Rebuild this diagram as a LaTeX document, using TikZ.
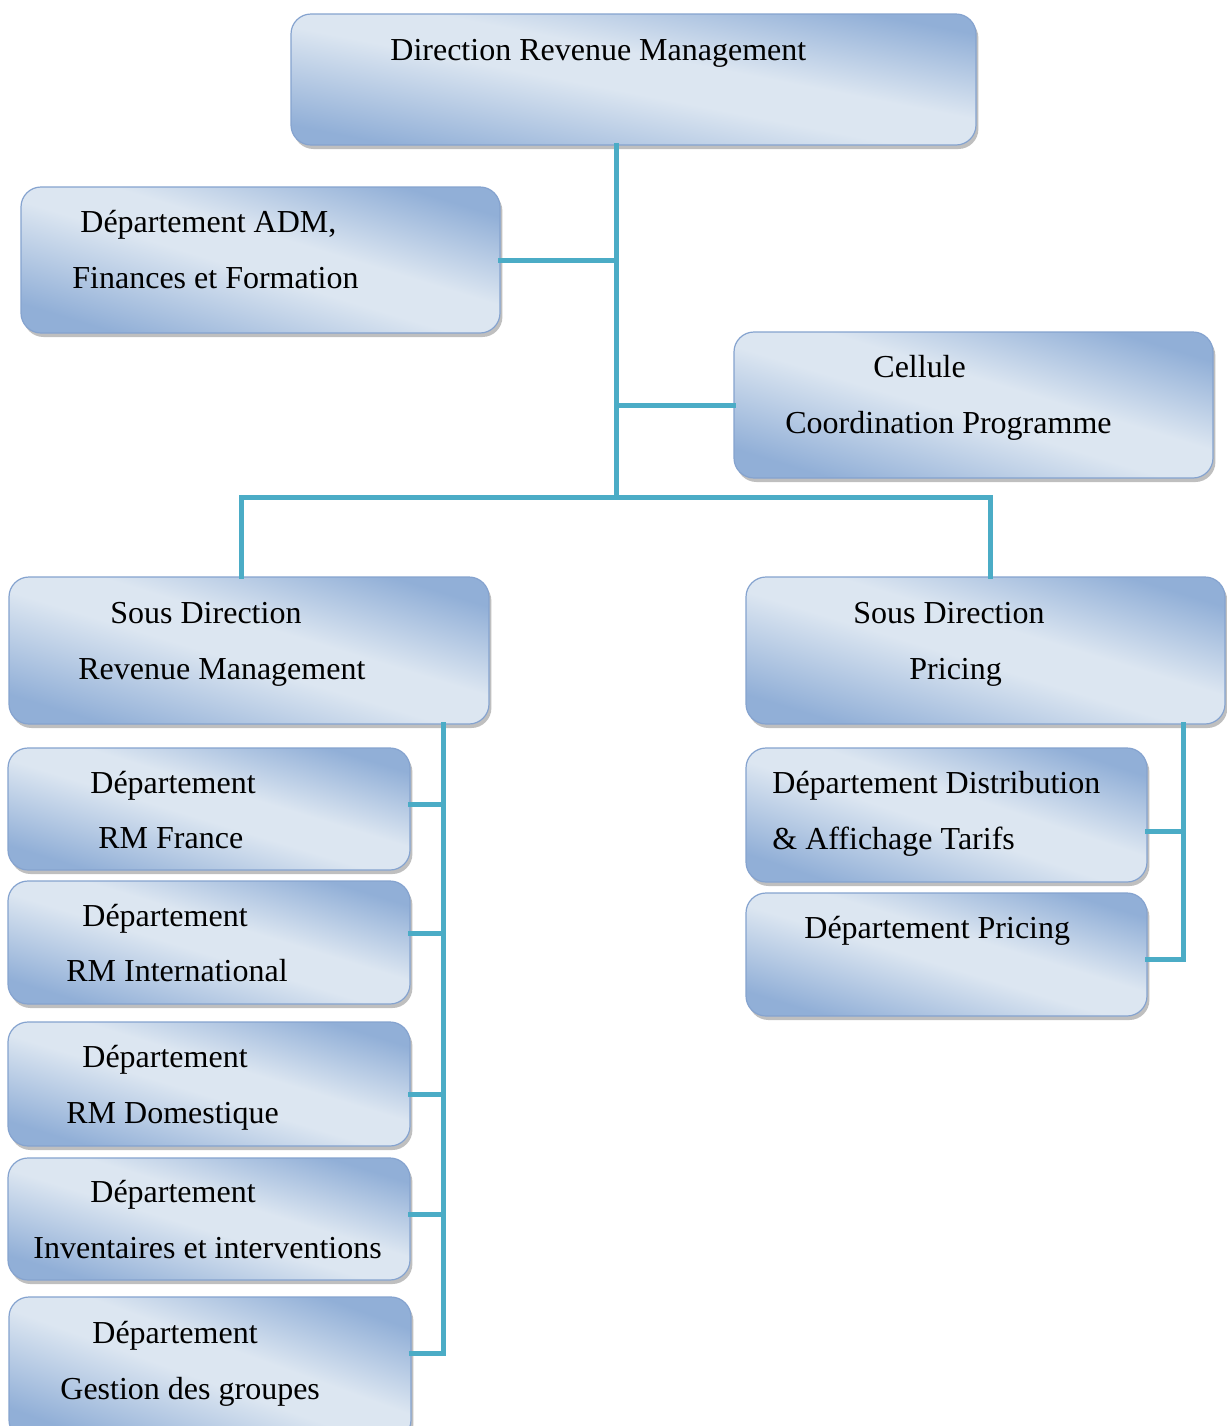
\documentclass[tikz,border=0pt]{standalone}
\usepackage{fontspec}
\setmainfont{Liberation Serif}
\usetikzlibrary{shadows,calc}
\definecolor{bdk}{HTML}{91AFD7}
\definecolor{blt}{HTML}{DCE6F1}
\definecolor{bline}{HTML}{85A3CF}
\definecolor{teal}{HTML}{4BACC6}
\pgfdeclarehorizontalshading{boxshade}{100bp}{color(0bp)=(bdk); color(25bp)=(bdk); color(47bp)=(blt); color(56bp)=(blt); color(75bp)=(bdk); color(100bp)=(bdk)}
\tikzset{
  rbox/.style={draw=bline, line width=0.6pt, rounded corners=10pt, shading=boxshade, shading angle=#1,
    inner sep=0pt, drop shadow={shadow xshift=1.2pt, shadow yshift=-2pt, fill=black!55, opacity=0.45}},
  rbox/.default=73,
  lbl/.style={anchor=base west, inner sep=0pt, font=\fontsize{16}{19}\selectfont},
  conn/.style={draw=teal, line width=2.5pt, line join=miter, line cap=rect}
}
\begin{document}
\begin{tikzpicture}[x=0.5pt,y=-0.5pt]
\useasboundingbox[fill=white] (0,0) rectangle (1227,1426);
% boxes
\node[rbox=79, minimum width=342.5pt, minimum height=65.5pt] (top)  at (633.5,79.5) {};
\node[rbox, minimum width=239.5pt, minimum height=73pt]   (adm)  at (260.5,260) {};
\node[rbox, minimum width=239.5pt, minimum height=73pt]   (cell) at (973.5,405) {};
\node[rbox, minimum width=240pt,   minimum height=73.5pt] (sdrm) at (249,650.5) {};
\node[rbox, minimum width=239.5pt, minimum height=73.5pt] (sdp)  at (985.5,650.5) {};
\node[rbox, minimum width=201pt,   minimum height=61pt]   (fr)   at (209,809) {};
\node[rbox, minimum width=201pt,   minimum height=61.5pt] (intl) at (209,942.5) {};
\node[rbox, minimum width=201pt,   minimum height=62pt]   (dom)  at (209,1084) {};
\node[rbox, minimum width=201pt,   minimum height=61pt]   (inv)  at (209,1219) {};
\node[rbox=70, minimum width=201pt, minimum height=71.5pt] (grp)  at (210,1368.5) {};
\node[rbox=71.5, minimum width=200.5pt, minimum height=67pt] (dist) at (946.5,815) {};
\node[rbox, minimum width=200.5pt, minimum height=61.5pt] (dpr)  at (946.5,954.5) {};
% labels
\node[lbl] (t1) at (390,60) {Direction Revenue Management};
\node[lbl] (a1) at (80,232) {Département ADM,};
\node[lbl] (a2) at (72,288) {Finances et Formation};
\node[lbl] (c1) at (873,377) {Cellule};
\node[lbl] (c2) at (785,433) {Coordination Programme};
\node[lbl] (s1) at (110,623) {Sous Direction};
\node[lbl] (s2) at (78,679) {Revenue Management};
\node[lbl] (p1) at (853,623) {Sous Direction};
\node[lbl] (p2) at (909,679) {Pricing};
\node[lbl] (f1) at (90,793) {Département};
\node[lbl] (f2) at (98,848) {RM France};
\node[lbl] (i1) at (82,926) {Département};
\node[lbl] (i2) at (66,981) {RM International};
\node[lbl] (d1) at (82,1067) {Département};
\node[lbl] (d2) at (66,1123) {RM Domestique};
\node[lbl] (v1) at (90,1202) {Département};
\node[lbl] (v2) at (33,1258) {Inventaires et interventions};
\node[lbl] (g1) at (92,1343) {Département};
\node[lbl] (g2) at (60,1399) {Gestion des groupes};
\node[lbl] (x1) at (772,793) {Département Distribution};
\node[lbl] (x2) at (772,849) {\& Affichage Tarifs};
\node[lbl] (y1) at (804,938) {Département Pricing};
% connector coordinates
\coordinate (spine) at (616,497);
\coordinate (lbar) at (241,497);
\coordinate (rbar) at (990,497);
\coordinate (lsp) at (443,724);
\coordinate (lb1) at (443,804);
\coordinate (lb2) at (443,933);
\coordinate (lb3) at (443,1094);
\coordinate (lb4) at (443,1214);
\coordinate (lb5) at (443,1353);
\coordinate (rsp) at (1183,724);
\coordinate (rb1) at (1183,831);
\coordinate (rb2) at (1183,959);
% connectors
\draw[conn] (top.south -| spine) -- (spine);
\draw[conn] (adm.east) -- (adm.east -| spine);
\draw[conn] (cell.west) -- (cell.west -| spine);
\draw[conn] (sdrm.north -| lbar) -- (lbar) -- (rbar) -- (sdp.north -| rbar);
\draw[conn] (sdrm.south -| lsp) -- (lb5) -- (lb5 -| grp.east);
\draw[conn] (lb1 -| fr.east) -- (lb1);
\draw[conn] (lb2 -| intl.east) -- (lb2);
\draw[conn] (lb3 -| dom.east) -- (lb3);
\draw[conn] (lb4 -| inv.east) -- (lb4);
\draw[conn] (sdp.south -| rsp) -- (rb2) -- (rb2 -| dpr.east);
\draw[conn] (rb1 -| dist.east) -- (rb1);
\end{tikzpicture}
\end{document}
